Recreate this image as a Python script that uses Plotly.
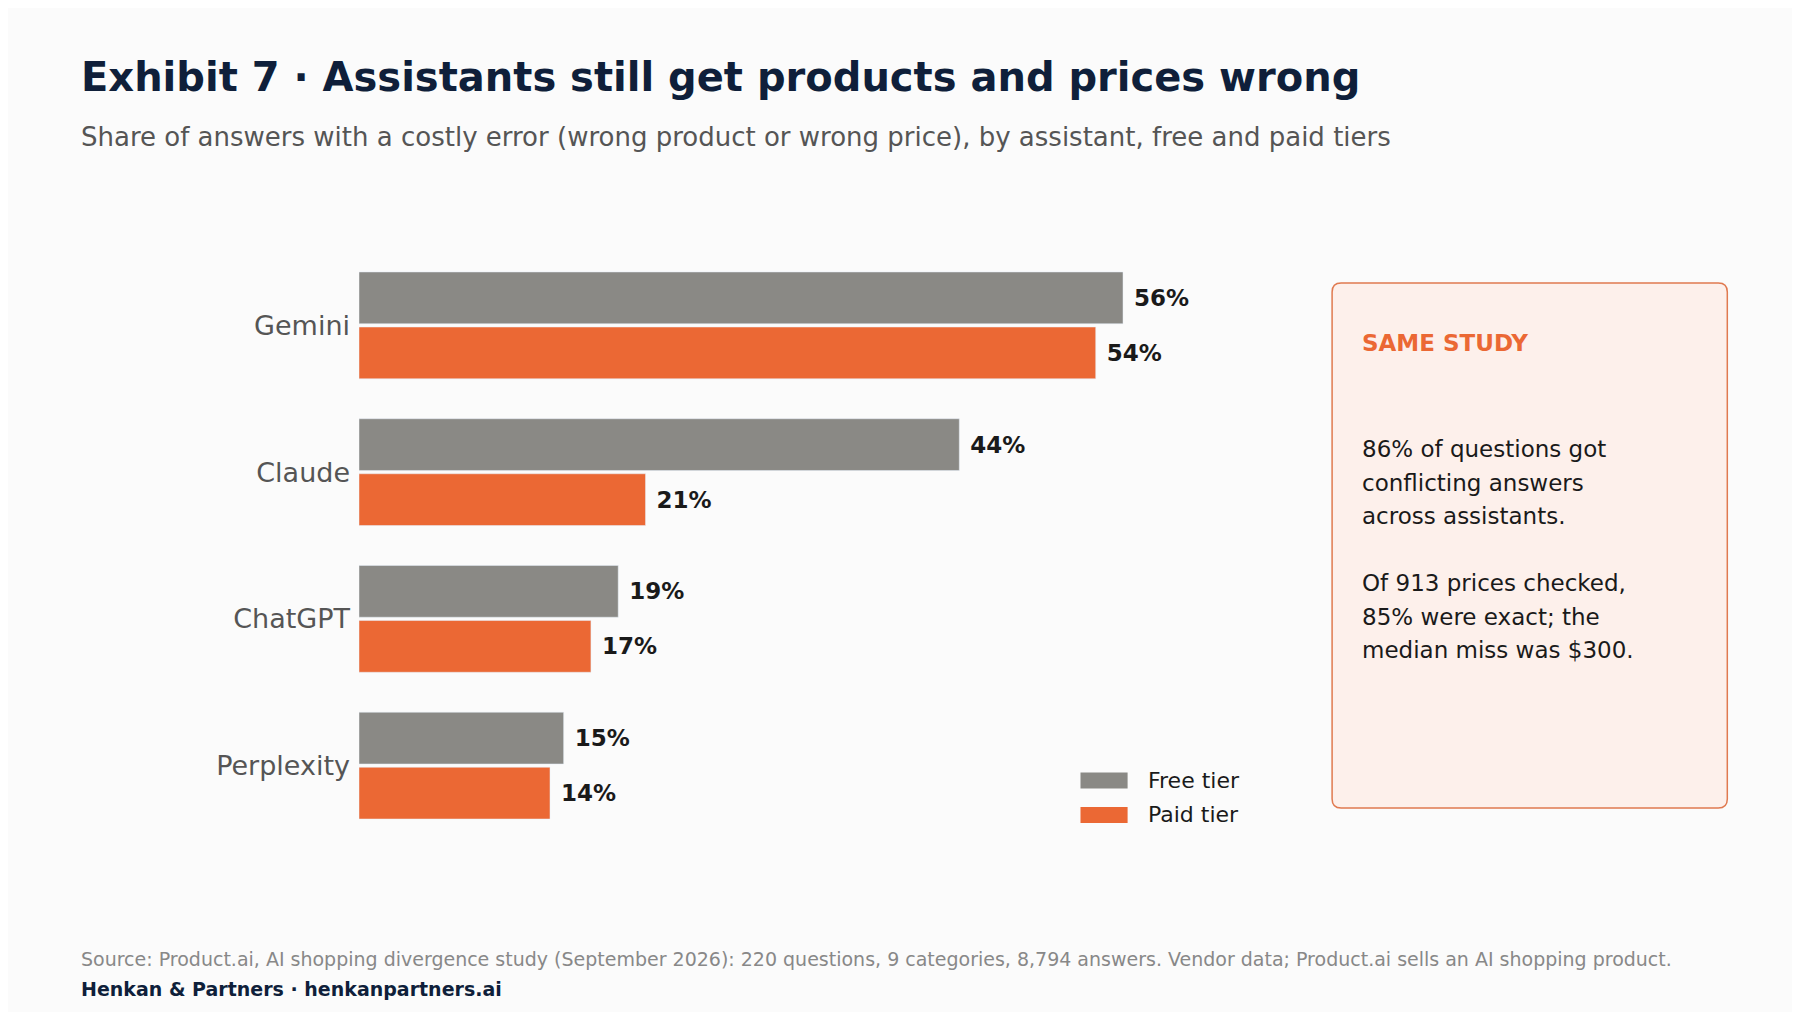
import plotly.graph_objects as go

assistants = ["Gemini", "Claude", "ChatGPT", "Perplexity"]
free_tier = [56, 44, 19, 15]
paid_tier = [54, 21, 17, 14]

W, H = 1800, 1012
S, OFF = 1800 / 1568, 9
def X(v): return v * S - OFF
def Y(v): return v * S - OFF

L, R, T, B = X(314), X(314) + 70 * (X(979) - X(314)) / 56, Y(220), Y(732)
GREY, ORANGE, NAVY = "#8a8985", "#eb6834", "#0f1f3a"
FONT = "DejaVu Sans"

def px(x): return (x - L) / (R - L)
def py(y): return (B - y) / (B - T)

fig = go.Figure()
fig.add_bar(y=assistants, x=paid_tier, name="Paid tier", orientation="h",
            marker_color=ORANGE, texttemplate="<b>\u00a0%{x}%</b>", textposition="outside",
            textfont=dict(size=23, color="#1a1a1a", family=FONT), cliponaxis=False)
fig.add_bar(y=assistants, x=free_tier, name="Free tier", orientation="h",
            marker_color=GREY, texttemplate="<b>\u00a0%{x}%</b>", textposition="outside",
            textfont=dict(size=23, color="#1a1a1a", family=FONT), cliponaxis=False)

fig.update_layout(
    width=W, height=H, barmode="group", bargap=0.25, bargroupgap=0.06,
    paper_bgcolor="#fbfbfb", plot_bgcolor="#fbfbfb",
    margin=dict(l=L, r=W - R, t=T, b=H - B),
    font=dict(family=FONT, color="#1a1a1a"),
    xaxis=dict(range=[0, 70], visible=False),
    yaxis=dict(categoryorder="array", categoryarray=assistants[::-1],
               tickfont=dict(size=27, color="#555555"), showline=False,
               showgrid=False, ticks="", ticklabelstandoff=8),
    showlegend=False,
)

# rounded callout box
x0, x1, y0, y1, r = X(1161), X(1505), Y(247), Y(705), 9
rx, ry = r / (R - L), r / (B - T)
a0, a1, b0, b1 = px(x0), px(x1), py(y1), py(y0)
path = (f"M {a0+rx},{b0} L {a1-rx},{b0} Q {a1},{b0} {a1},{b0+ry} L {a1},{b1-ry} "
        f"Q {a1},{b1} {a1-rx},{b1} L {a0+rx},{b1} Q {a0},{b1} {a0},{b1-ry} "
        f"L {a0},{b0+ry} Q {a0},{b0} {a0+rx},{b0} Z")
fig.add_shape(type="path", xref="paper", yref="paper", path=path,
              fillcolor="#fdf0eb", line=dict(color="#e07a50", width=1.5))

# legend
for name, col, yy in [("Free tier", GREY, 681), ("Paid tier", ORANGE, 711)]:
    fig.add_shape(type="rect", xref="paper", yref="paper", x0=px(X(942)), x1=px(X(983)),
                  y0=py(Y(yy - 7)), y1=py(Y(yy + 7)), fillcolor=col, line_width=0)
    fig.add_annotation(text=name, xref="paper", yref="paper", x=px(X(999)), y=py(Y(yy)),
                       xanchor="left", yanchor="middle", showarrow=False,
                       font=dict(size=22, color="#1a1a1a", family=FONT))

anns = [
    dict(text="<b>Exhibit 7 · Assistants still get products and prices wrong</b>",
         x=70, y=67, size=40, color=NAVY),
    dict(text="Share of answers with a costly error (wrong product or wrong price), by assistant, free and paid tiers",
         x=70, y=120, size=26, color="#555555"),
    dict(text="<b>SAME STUDY</b>", x=1185, y=299, size=23, color=ORANGE),
    dict(text="Source: Product.ai, AI shopping divergence study (September 2026): 220 questions, 9 categories, 8,794 answers. Vendor data; Product.ai sells an AI shopping product.",
         x=70, y=837, size=19, color="#888888"),
    dict(text="<b>Henkan & Partners · henkanpartners.ai</b>", x=70, y=863, size=19, color=NAVY),
]
for a in anns:
    fig.add_annotation(text=a["text"], xref="paper", yref="paper", x=px(X(a["x"])), y=py(Y(a["y"])),
                       xanchor="left", yanchor="middle", showarrow=False,
                       font=dict(size=a["size"], color=a["color"], family=FONT))

body = ["86% of questions got", "conflicting answers", "across assistants.", "",
        "Of 913 prices checked,", "85% were exact; the", "median miss was $300."]
for i, line in enumerate(body):
    if line:
        fig.add_annotation(text=line, xref="paper", yref="paper", x=px(X(1185)), y=py(Y(392 + i * 29.2)),
                           xanchor="left", yanchor="middle", showarrow=False,
                           font=dict(size=23, color="#1a1a1a", family=FONT))

fig.write_html("out.html")
